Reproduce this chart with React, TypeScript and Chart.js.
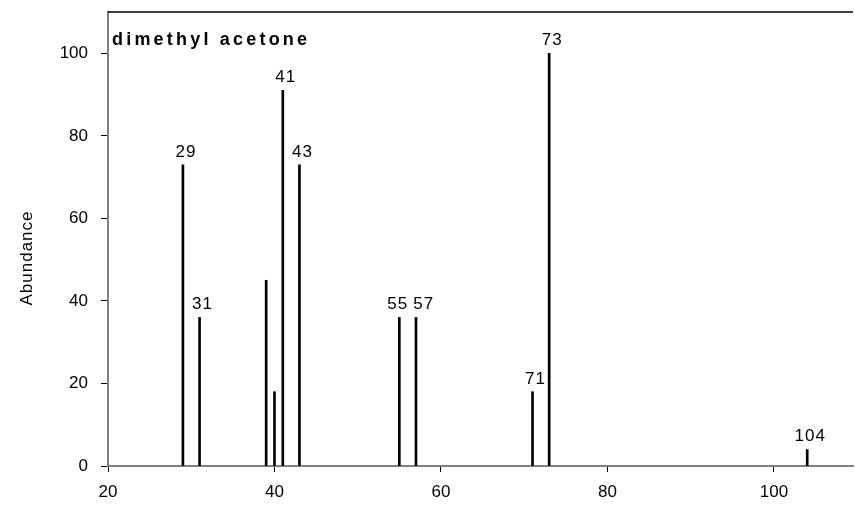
import React, { useEffect, useRef } from "react";
import { Chart, registerables } from "chart.js";

Chart.register(...registerables);

const chartTitle = "dimethyl acetone";
const yAxisTitle = "Abundance";
const masses = [29, 31, 39, 40, 41, 43, 55, 57, 71, 73, 104];
const abundances = [73, 36, 45, 18, 91, 73, 36, 36, 18, 100, 4];
const labeledMasses = [29, 31, 41, 43, 55, 57, 71, 73, 104];
const xTickValues = [20, 40, 60, 80, 100];
const yTickValues = [0, 20, 40, 60, 80, 100];

const FONT = "'Liberation Sans', Arial, sans-serif";

export default function App() {
  const ref = useRef<HTMLCanvasElement | null>(null);

  useEffect(() => {
    const canvas = ref.current;
    if (!canvas) return;

    const overlay = {
      id: "overlay",
      afterDraw(chart: any) {
        const { ctx, chartArea, scales } = chart;
        const xs = scales.x;
        const ys = scales.y;
        ctx.save();
        // top border
        ctx.strokeStyle = "#000";
        ctx.lineWidth = 1.5;
        ctx.beginPath();
        ctx.moveTo(chartArea.left, chartArea.top);
        ctx.lineTo(chartArea.right, chartArea.top);
        ctx.stroke();

        // peak labels (shifted slightly right; neighbours nudged apart)
        ctx.fillStyle = "#000";
        ctx.font = `17px ${FONT}`;
        ctx.textAlign = "center";
        ctx.textBaseline = "alphabetic";
        (ctx as any).letterSpacing = "1px";
        const placed: { x: number; y: number }[] = [];
        masses.forEach((m, i) => {
          if (!labeledMasses.includes(m)) return;
          let px = xs.getPixelForValue(m) + 3;
          const py = ys.getPixelForValue(abundances[i]) - 8;
          const prev = placed[placed.length - 1];
          if (prev && Math.abs(prev.y - py) < 14 && px - prev.x < 26) {
            const shift = (26 - (px - prev.x)) / 2;
            prev.x -= shift;
            px += shift;
          }
          placed.push({ x: px, y: py });
          (placed[placed.length - 1] as any).text = String(m);
        });
        placed.forEach((p: any) => ctx.fillText(p.text, p.x, p.y));

        // title
        ctx.font = `bold 18px ${FONT}`;
        (ctx as any).letterSpacing = "3.2px";
        ctx.textAlign = "left";
        ctx.fillText(chartTitle, chartArea.left + 4, 45);

        // y axis title
        (ctx as any).letterSpacing = "1px";
        ctx.font = `17px ${FONT}`;
        ctx.translate(32, 258);
        ctx.rotate(-Math.PI / 2);
        ctx.textAlign = "center";
        ctx.fillText(yAxisTitle, 0, 0);
        ctx.restore();
      },
    };

    const chart = new Chart(canvas, {
      type: "bar",
      data: {
        datasets: [
          {
            data: masses.map((m, i) => ({ x: m, y: abundances[i] })),
            backgroundColor: "#000",
            borderWidth: 0,
            barThickness: 2,
          },
        ],
      },
      options: {
        animation: false,
        responsive: false,
        maintainAspectRatio: false,
        layout: { padding: { top: 12, right: 2, left: 0, bottom: 0 } },
        plugins: {
          legend: { display: false },
          tooltip: { enabled: false },
          title: { display: false },
        },
        scales: {
          x: {
            type: "linear",
            min: 20,
            max: 109.5,
            offset: false,
            afterBuildTicks: (s: any) => {
              s.ticks = xTickValues.map((v) => ({ value: v }));
            },
            afterFit: (s: any) => {
              s.height = 39;
              s.paddingLeft = 0;
              s.paddingRight = 0;
              s.paddingTop = 0;
              s.paddingBottom = 0;
            },
            ticks: {
              color: "#000",
              font: { size: 17, family: FONT },
              padding: 10,
              maxRotation: 0,
              autoSkip: false,
            },
            grid: {
              display: true,
              offset: false,
              drawOnChartArea: false,
              drawTicks: true,
              tickLength: 6,
              color: "#000",
              lineWidth: 1,
            },
            border: { display: true, color: "#808080", width: 2 },
          },
          y: {
            type: "linear",
            min: 0,
            max: 110,
            afterBuildTicks: (s: any) => {
              s.ticks = yTickValues.map((v) => ({ value: v }));
            },
            afterFit: (s: any) => {
              s.width = 108;
              s.paddingLeft = 0;
              s.paddingRight = 0;
              s.paddingTop = 0;
              s.paddingBottom = 0;
            },
            ticks: {
              color: "#000",
              font: { size: 17, family: FONT },
              padding: 13,
              autoSkip: false,
            },
            grid: {
              display: true,
              offset: false,
              drawOnChartArea: false,
              drawTicks: true,
              tickLength: 7,
              color: "#000",
              lineWidth: 1,
            },
            border: { display: true, color: "#808080", width: 2 },
          },
        },
      },
      plugins: [overlay],
    } as any);

    return () => chart.destroy();
  }, []);

  return (
    <div style={{ position: "fixed", left: 0, top: 0, width: 855, height: 505, background: "#fff" }}>
      <canvas ref={ref} width={855} height={505} style={{ display: "block", width: 855, height: 505 }} />
    </div>
  );
}
